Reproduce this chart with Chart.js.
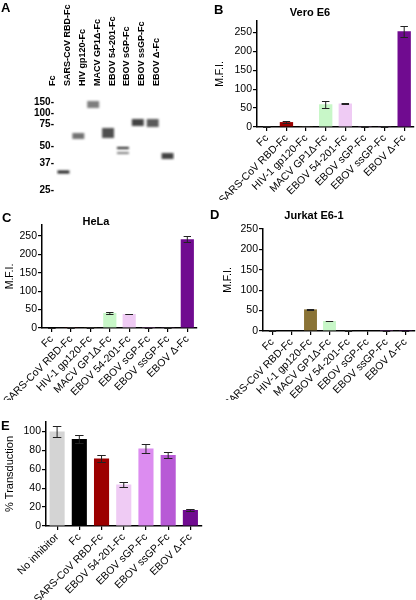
<!DOCTYPE html>
<html lang="en">
  <head>
    <meta charset="UTF-8" />
    <meta name="viewport" content="width=device-width, initial-scale=1.0" />
    <title>Fc fusion proteins</title>
    <script src="https://cdn.jsdelivr.net/npm/chart.js"></script>
    <style>
      body {
        margin: 0;
        width: 416px;
        height: 600px;
        position: relative;
        overflow: hidden;
        background: #fff;
        font-family: "Liberation Sans", Arial, sans-serif;
        color: #000;
      }
      canvas,
      .txt {
        position: absolute;
      }
      .txt {
        line-height: 1;
        white-space: nowrap;
        font-weight: bold;
      }
      .letter {
        font-size: 13px;
      }
      .title {
        font-size: 11px;
        transform: translateX(-50%);
      }
    </style>
  </head>
  <body>
    <canvas id="gel" width="205" height="200" style="left: 0; top: 0"></canvas>
    <canvas id="vero" width="211" height="200" style="left: 205px; top: 0"></canvas>
    <canvas id="hela" width="205" height="200" style="left: 0; top: 200px"></canvas>
    <canvas id="jurkat" width="211" height="200" style="left: 205px; top: 200px"></canvas>
    <canvas id="transduction" width="210" height="210" style="left: 0; top: 390px"></canvas>

    <div class="txt letter" style="left: 1px; top: 1px">A</div>
    <div class="txt letter" style="left: 214px; top: 3px">B</div>
    <div class="txt letter" style="left: 2px; top: 211px">C</div>
    <div class="txt letter" style="left: 210px; top: 208px">D</div>
    <div class="txt letter" style="left: 1px; top: 419px">E</div>
    <div class="txt title" style="left: 310px; top: 7px">Vero E6</div>
    <div class="txt title" style="left: 96px; top: 216px">HeLa</div>
    <div class="txt title" style="left: 314px; top: 210px">Jurkat E6-1</div>

    <script>
      // ---- data ----
      const laneLabels = ["Fc", "SARS-CoV RBD-Fc", "HIV gp120-Fc", "MACV GP1Δ-Fc", "EBOV 54-201-Fc", "EBOV sGP-Fc", "EBOV ssGP-Fc", "EBOV Δ-Fc"];
      const markerKDa = [150, 100, 75, 50, 37, 25];
      const markerMigration = [14, 25, 36, 58, 75, 102];
      const bandTop = [82.5, 45, 13, 40, 59, 31, 31, 65];
      const bandBottom = [85.5, 51, 20, 50, 61, 38, 39, 71];
      const lowerBandTop = [null, null, null, null, 64, null, null, null];
      const lowerBandBottom = [null, null, null, null, 66, null, null, null];
      const bandIntensity = [0.95, 0.6, 0.55, 0.75, 0.95, 0.8, 0.7, 0.8];
      const lowerBandIntensity = [0, 0, 0, 0, 0.55, 0, 0, 0];

      const fusionLabels = ["Fc", "SARS-CoV RBD-Fc", "HIV-1 gp120-Fc", "MACV GP1Δ-Fc", "EBOV 54-201-Fc", "EBOV sGP-Fc", "EBOV ssGP-Fc", "EBOV Δ-Fc"];
      const veroMFI = [1, 13, 2, 60, 62, 1, 2, 253];
      const veroSEM = [0.5, 2, 0.5, 9.5, 1.5, 0.5, 0.8, 14.5];
      const helaMFI = [1, 2, 2, 41, 38, 1, 2, 241];
      const helaSEM = [0.3, 0.8, 0.8, 3, 1.2, 0.3, 0.8, 8];
      const jurkatMFI = [1, 0, 53, 24.5, 1.5, 0, 0.8, 0.8];
      const jurkatSEM = [0.3, 0, 1.2, 1, 0.3, 0, 0.3, 0.3];

      const transductionLabels = ["No inhibitor", "Fc", "SARS-CoV RBD-Fc", "EBOV 54-201-Fc", "EBOV sGP-Fc", "EBOV ssGP-Fc", "EBOV Δ-Fc"];
      const transductionPct = [100, 92, 71.5, 44, 82, 75, 17];
      const transductionSEM = [5.5, 4.5, 3.3, 2.5, 4.3, 3.6, 1];

      // ---- styles ----
      const FONT = "'Liberation Sans', Arial, sans-serif";
      const barColors = {
        "No inhibitor": "#d4d4d4",
        "Fc": "#000000",
        "SARS-CoV RBD-Fc": "#9c0000",
        "HIV-1 gp120-Fc": "#8a7336",
        "MACV GP1Δ-Fc": "#c8f7c8",
        "EBOV 54-201-Fc": "#efcbf4",
        "EBOV sGP-Fc": "#dc8cf0",
        "EBOV ssGP-Fc": "#b85ad6",
        "EBOV Δ-Fc": "#700b90",
      };

      Chart.defaults.font.family = FONT;
      Chart.defaults.color = "#000";

      // blurry gel bands
      const gelBlur = {
        id: "gelBlur",
        beforeDatasetsDraw(chart) {
          chart.ctx.save();
          chart.ctx.filter = "blur(1.2px)";
        },
        afterDatasetsDraw(chart) {
          chart.ctx.restore();
        },
      };

      new Chart(document.getElementById("gel"), {
        type: "bar",
        data: {
          labels: laneLabels,
          datasets: [
            {
              data: bandTop.map((t, i) => [t, bandBottom[i]]),
              backgroundColor: bandIntensity.map((a) => `rgba(20,20,20,${a})`),
              grouped: false,
              barPercentage: 0.8,
              categoryPercentage: 1,
            },
            {
              data: lowerBandTop.map((t, i) => (t === null ? null : [t, lowerBandBottom[i]])),
              backgroundColor: lowerBandIntensity.map((a) => `rgba(20,20,20,${a})`),
              grouped: false,
              barPercentage: 0.8,
              categoryPercentage: 1,
            },
          ],
        },
        options: {
          responsive: false,
          animation: false,
          layout: { padding: { left: 0, right: 30, top: 0, bottom: 2 } },
          plugins: { legend: { display: false }, tooltip: { enabled: false } },
          scales: {
            x: {
              position: "top",
              offset: true,
              grid: { display: false, drawTicks: false },
              border: { display: false },
              ticks: {
                autoSkip: false,
                minRotation: 90,
                maxRotation: 90,
                padding: 2,
                font: { size: 9, weight: "bold" },
              },
              afterFit: (s) => {
                s.height = 88;
                s.paddingLeft = 0;
                s.paddingRight = 0;
              },
            },
            y: {
              reverse: true,
              min: 0,
              max: 110,
              grid: { display: false, drawTicks: false },
              border: { display: false },
              afterBuildTicks: (axis) => {
                axis.ticks = markerMigration.map((v) => ({ value: v }));
              },
              ticks: {
                padding: 2,
                font: { size: 10, weight: "bold" },
                callback: (v, i) => markerKDa[i] + "-",
              },
              afterFit: (s) => {
                s.width = 56;
                s.paddingTop = 0;
                s.paddingBottom = 0;
              },
            },
          },
        },
        plugins: [gelBlur],
      });

      // error bars drawn from the SEM arrays through the y scale
      const errorBars = {
        id: "errorBars",
        afterDatasetsDraw(chart, args, opts) {
          const errs = opts.errors;
          if (!errs) return;
          const { ctx } = chart;
          const y = chart.scales.y;
          const values = chart.data.datasets[0].data;
          ctx.save();
          ctx.strokeStyle = "#222";
          ctx.lineWidth = 1;
          chart.getDatasetMeta(0).data.forEach((bar, i) => {
            const v = values[i];
            const e = errs[i];
            if (!e) return;
            const top = Math.round(y.getPixelForValue(v + e)) + 0.5;
            const bot = Math.round(y.getPixelForValue(Math.max(0, v - e))) + 0.5;
            const half = bar.width * 0.28;
            ctx.beginPath();
            ctx.moveTo(bar.x, top);
            ctx.lineTo(bar.x, bot);
            ctx.moveTo(bar.x - half, top);
            ctx.lineTo(bar.x + half, top);
            ctx.moveTo(bar.x - half, bot);
            ctx.lineTo(bar.x + half, bot);
            ctx.stroke();
          });
          ctx.restore();
        },
      };

      function barPanel(id, labels, values, errors, cfg) {
        return new Chart(document.getElementById(id), {
          type: "bar",
          data: {
            labels: labels,
            datasets: [
              {
                data: values,
                backgroundColor: labels.map((l) => barColors[l]),
                barPercentage: 0.68,
                categoryPercentage: 1,
              },
            ],
          },
          options: {
            responsive: false,
            animation: false,
            layout: { padding: cfg.padding },
            plugins: {
              legend: { display: false },
              tooltip: { enabled: false },
              errorBars: { errors: errors },
            },
            scales: {
              x: {
                offset: true,
                grid: {
                  display: true,
                  drawOnChartArea: false,
                  offset: false,
                  color: "#000",
                  lineWidth: 1.2,
                  tickLength: 4,
                },
                border: { color: "#000", width: 1.5 },
                ticks: {
                  autoSkip: false,
                  minRotation: 45,
                  maxRotation: 45,
                  padding: 1,
                  font: { size: 10.5 },
                },
                afterFit: (s) => {
                  s.height = cfg.xHeight;
                },
              },
              y: {
                min: 0,
                max: cfg.yMax,
                grid: {
                  display: true,
                  drawOnChartArea: false,
                  color: "#000",
                  lineWidth: 1.2,
                  tickLength: 4,
                },
                border: { color: "#000", width: 1.5 },
                ticks: {
                  stepSize: cfg.step,
                  includeBounds: false,
                  padding: 1,
                  font: { size: 10.5 },
                },
                title: {
                  display: true,
                  text: cfg.yTitle,
                  font: { size: cfg.titleSize || 10.5 },
                  padding: { top: cfg.titlePad, bottom: 0 },
                },
                afterFit: (s) => {
                  s.width = cfg.yWidth;
                },
              },
            },
          },
          plugins: [errorBars],
        });
      }

      barPanel("vero", fusionLabels, veroMFI, veroSEM, {
        yMax: 280, step: 50, yTitle: "M.F.I.", titlePad: 9, yWidth: 52, xHeight: 73,
        padding: { left: 0, right: 2, top: 21, bottom: 0 },
      });
      barPanel("hela", fusionLabels, helaMFI, helaSEM, {
        yMax: 280, step: 50, yTitle: "M.F.I.", titlePad: 4, yWidth: 42, xHeight: 72,
        padding: { left: 0, right: 8, top: 25, bottom: 0 },
      });
      barPanel("jurkat", fusionLabels, jurkatMFI, jurkatSEM, {
        yMax: 250, step: 50, yTitle: "M.F.I.", titlePad: 17, yWidth: 58, xHeight: 69,
        padding: { left: 0, right: 1, top: 29, bottom: 0 },
      });
      barPanel("transduction", transductionLabels, transductionPct, transductionSEM, {
        yMax: 110, step: 20, yTitle: "% Transduction", titlePad: 3, titleSize: 11, yWidth: 46, xHeight: 74,
        padding: { left: 0, right: 8.5, top: 32, bottom: 0 },
      });
    </script>
  </body>
</html>
